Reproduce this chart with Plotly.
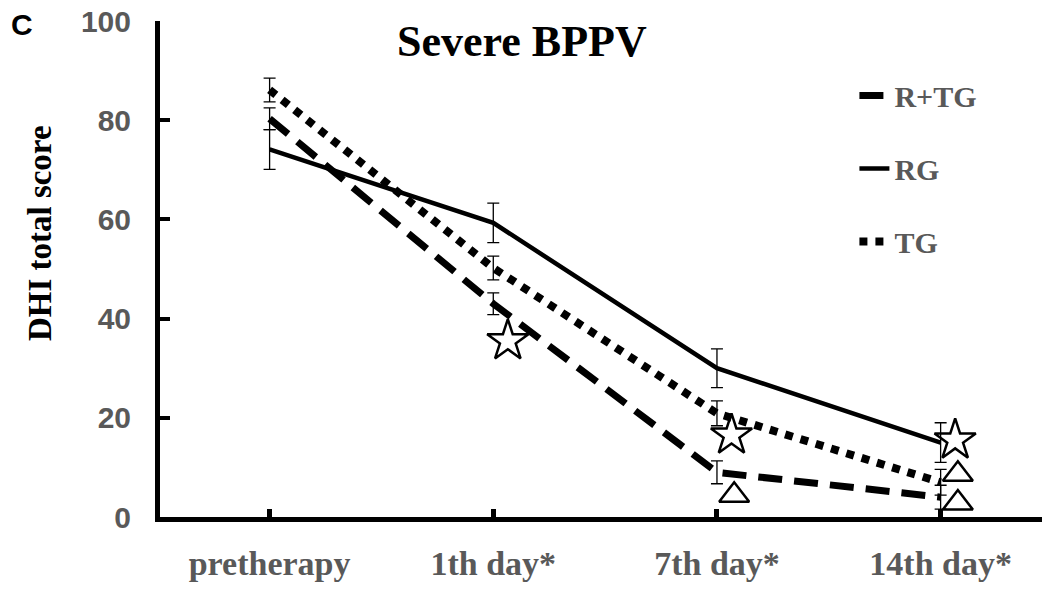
import plotly.graph_objects as go

categories = ["pretherapy", "1th day*", "7th day*", "14th day*"]
y_ticks = [0, 20, 40, 60, 80, 100]

rtg_mean = [80.3, 43.0, 9.0, 4.0]
rtg_err = [2.2, 2.2, 2.3, 2.4]
rg_mean = [74.1, 59.3, 30.0, 15.0]
rg_err = [4.0, 4.0, 3.9, 4.0]
tg_mean = [86.1, 50.2, 20.9, 7.0]
tg_err = [2.4, 2.4, 2.5, 2.6]

star_cats = [1, 2, 3]
star_vals = [35.5, 16.5, 15.5]
tri_cats = [2, 3, 3]
tri_vals = [4.4, 8.6, 2.8]

xpos = list(range(len(categories)))
nudge = 0.065

serif = "Liberation Serif, Times New Roman, serif"
sans = "Liberation Sans, Arial, sans-serif"
gray = "#595959"

fig = go.Figure()

def err(e):
    return dict(type="data", array=e, visible=True, color="black", thickness=1.3, width=6)

fig.add_trace(go.Scatter(x=xpos, y=rtg_mean, mode="lines", name="R+TG", legendgroup="a",
                         line=dict(color="black", width=7, dash="24px,12px"), error_y=err(rtg_err)))
fig.add_trace(go.Scatter(x=xpos, y=rg_mean, mode="lines", name="RG", legendgroup="b",
                         line=dict(color="black", width=4.5), error_y=err(rg_err)))
fig.add_trace(go.Scatter(x=xpos, y=tg_mean, mode="lines", name="TG", legendgroup="c",
                         line=dict(color="black", width=8, dash="8px,8px"), error_y=err(tg_err)))

fig.add_trace(go.Scatter(x=[c + nudge for c in star_cats], y=star_vals, mode="markers", showlegend=False,
                         marker=dict(symbol="star-open", size=31, color="black", line=dict(width=2.5, color="black"))))
fig.add_trace(go.Scatter(x=[c + nudge + 0.012 for c in tri_cats], y=tri_vals, mode="markers", showlegend=False,
                         marker=dict(symbol="triangle-up-open", size=26, color="black", line=dict(width=2.5, color="black"))))

fig.update_layout(
    width=1042, height=593,
    margin=dict(l=152, r=2, t=13, b=84),
    plot_bgcolor="white", paper_bgcolor="white",
    showlegend=True,
    legend=dict(x=0.782, y=0.902, xanchor="left", yanchor="top", tracegroupgap=31,
                font=dict(family=serif, size=30, color=gray, weight="bold"),
                bgcolor="rgba(0,0,0,0)"),
    xaxis=dict(range=[-0.49, 3.48], tickvals=xpos, ticktext=categories, showgrid=False, zeroline=False,
               showline=True, linecolor="black", linewidth=5, ticks="inside", ticklen=8, tickwidth=5,
               tickcolor="black", ticklabelstandoff=12, ticklabeloverflow="allow", automargin=False,
               tickfont=dict(family=serif, size=34, color=gray, weight="bold")),
    yaxis=dict(range=[0, 100], tickvals=y_ticks, showgrid=False, zeroline=False,
               showline=True, linecolor="black", linewidth=5, ticks="inside", ticklen=10, tickwidth=4,
               tickcolor="black", ticklabelstandoff=18, ticklabeloverflow="allow", automargin=False,
               tickfont=dict(family=sans, size=30, color=gray, weight="bold")),
    annotations=[
        dict(text="Severe BPPV", x=0.4077, y=0.958, xref="paper", yref="paper", showarrow=False,
             xanchor="center", yanchor="middle", font=dict(family=serif, size=44, color="black", weight="bold")),
        dict(text="C", x=-0.155, y=0.992, xref="paper", yref="paper", showarrow=False,
             xanchor="center", yanchor="middle", font=dict(family=sans, size=30, color="black", weight="bold")),
        dict(text="DHI total score", x=-0.135, y=0.5726, xref="paper", yref="paper", showarrow=False,
             textangle=-90, xanchor="center", yanchor="middle",
             font=dict(family=serif, size=33, color="black", weight="bold")),
    ],
)

fig.write_html("out.html")
